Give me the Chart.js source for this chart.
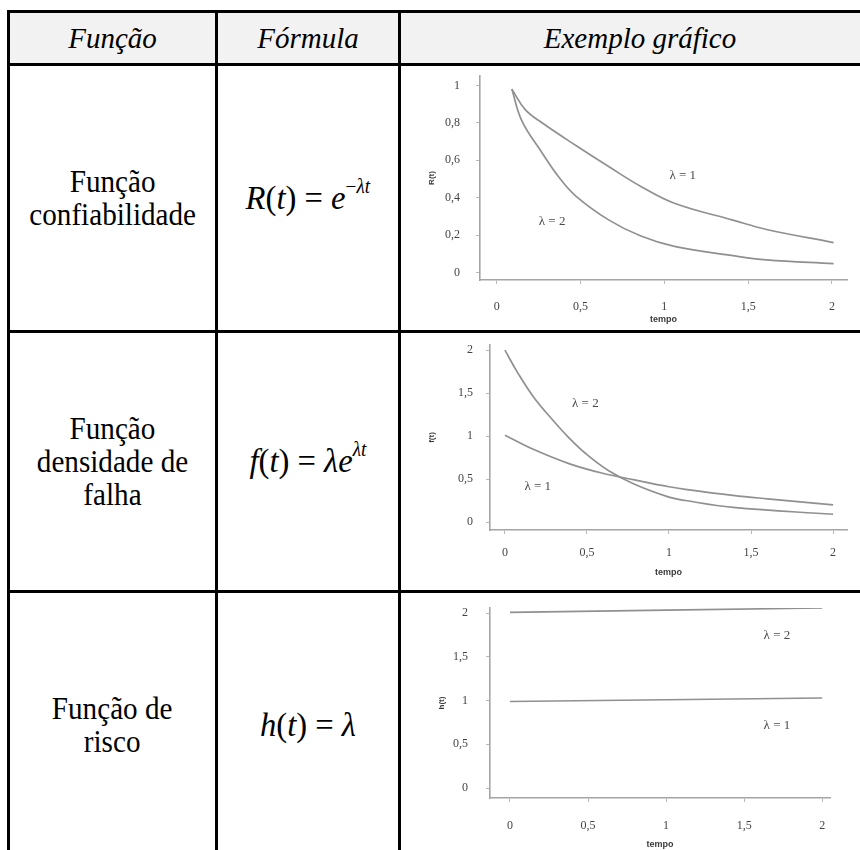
<!DOCTYPE html>
<html lang="pt">
<head>
<meta charset="utf-8">
<title>Funções de confiabilidade</title>
<script src="https://cdn.jsdelivr.net/npm/chart.js@4.4.0/dist/chart.umd.min.js"></script>
<style>
  body { margin: 0; width: 860px; height: 850px; overflow: hidden; position: relative; background: #fff;
         font-family: "Liberation Serif", "DejaVu Serif", serif; color: #000; }
  .hl { position: absolute; left: 7px; width: 900px; height: 3px; background: #000; }
  .vl { position: absolute; top: 10px; width: 3px; height: 860px; background: #000; }
  .cell { position: absolute; display: flex; align-items: center; justify-content: center; text-align: center; }
  .head { background: #f2f2f2; font-style: italic; font-size: 29px; }
  .name { font-size: 31px; line-height: 33px; }
  .name span { display: inline-block; transform: scaleX(0.94); }
  .formula { font-size: 34px; white-space: nowrap; }
  .formula span { display: inline-block; transform: scaleX(0.96); }
  .formula sup { font-size: 20px; position: relative; top: -4px; }
  canvas { position: absolute; filter: blur(0.3px); }
</style>
</head>
<body>
<div class="cell head" style="left:10px;top:13px;width:205px;height:50px;">Função</div>
<div class="cell head" style="left:218px;top:13px;width:180px;height:50px;">Fórmula</div>
<div class="cell head" style="left:401px;top:13px;width:478px;height:50px;">Exemplo gráfico</div>

<div class="cell name" style="left:10px;top:66px;width:205px;height:264px;"><span>Função<br>confiabilidade</span></div>
<div class="cell name" style="left:10px;top:333px;width:205px;height:257px;"><span>Função<br>densidade de<br>falha</span></div>
<div class="cell name" style="left:10px;top:593px;width:205px;height:264px;"><span>Função de<br>risco</span></div>

<div class="cell formula" style="left:218px;top:66px;width:180px;height:264px;"><span><i>R</i>(<i>t</i>) = <i>e</i><sup>−<i>λt</i></sup></span></div>
<div class="cell formula" style="left:218px;top:333px;width:180px;height:257px;"><span><i>f</i>(<i>t</i>) = <i>λe</i><sup><i>λt</i></sup></span></div>
<div class="cell formula" style="left:218px;top:593px;width:180px;height:264px;"><span><i>h</i>(<i>t</i>) = <i>λ</i></span></div>

<canvas id="conf" width="459" height="264" style="left:401px;top:66px;"></canvas>
<canvas id="dens" width="459" height="257" style="left:401px;top:333px;"></canvas>
<canvas id="risco" width="459" height="257" style="left:401px;top:593px;"></canvas>

<div class="hl" style="top:10px;"></div>
<div class="hl" style="top:63px;"></div>
<div class="hl" style="top:330px;"></div>
<div class="hl" style="top:590px;"></div>
<div class="vl" style="left:7px;"></div>
<div class="vl" style="left:215px;"></div>
<div class="vl" style="left:398px;"></div>

<script>
// eixos
const tempoTicks = [0, 0.5, 1, 1.5, 2];
const confTicks = [0, 0.2, 0.4, 0.6, 0.8, 1];
const densTicks = [0, 0.5, 1, 1.5, 2];
const riscoTicks = [0, 0.5, 1, 1.5, 2];

// R(t), lambda = 1 e lambda = 2
const confT1 = [0.09, 0.17, 0.27, 0.47, 0.67, 0.86, 1.06, 1.41, 1.61, 2.01];
const confL1 = [0.98, 0.87, 0.80, 0.68, 0.565, 0.46, 0.37, 0.28, 0.23, 0.16];
const confT2 = [0.09, 0.15, 0.27, 0.37, 0.47, 0.67, 0.86, 1.06, 1.41, 1.61, 2.01];
const confL2 = [0.98, 0.81, 0.64, 0.51, 0.41, 0.28, 0.195, 0.14, 0.09, 0.068, 0.048];

// f(t)
const densT1 = [0, 0.18, 0.39, 0.59, 0.79, 1.0, 1.1, 1.39, 1.6, 2.0];
const densL1 = [1.01, 0.84, 0.68, 0.57, 0.49, 0.41, 0.38, 0.31, 0.27, 0.2];
const densT2 = [0, 0.08, 0.18, 0.29, 0.39, 0.49, 0.63, 0.79, 1.0, 1.1, 1.39, 2.0];
const densL2 = [2.0, 1.73, 1.44, 1.19, 0.98, 0.80, 0.60, 0.44, 0.29, 0.25, 0.17, 0.09];

// h(t)
const riscoT = [0, 2];
const riscoL1 = [0.99, 1.03];
const riscoL2 = [2.01, 2.06];

const serif = '"Liberation Serif", "DejaVu Serif", serif';

function pts(ts, vs) {
    return ts.map((t, i) => ({ x: t, y: vs[i] }));
}

function fmt(v) {
    return String(v).replace('.', ',');
}

// escreve os rótulos "λ = n" dentro do gráfico
const lambdaLabels = {
    id: 'lambdaLabels',
    afterDatasetsDraw(chart, args, opts) {
        const { ctx, scales: { x, y } } = chart;
        ctx.save();
        ctx.font = '13px ' + serif;
        ctx.fillStyle = '#4a4a4a';
        ctx.textAlign = 'center';
        ctx.textBaseline = 'middle';
        opts.items.forEach(it => ctx.fillText(it.text, x.getPixelForValue(it.x), y.getPixelForValue(it.y)));
        ctx.restore();
    }
};

function makeChart(id, cfg) {
    const ctx = document.getElementById(id).getContext('2d');
    const tickFont = { family: serif, size: 12 };
    const titleFont = { family: '"Liberation Sans", Arial, sans-serif', size: 8, weight: 'bold' };
    return new Chart(ctx, {
        type: 'line',
        data: {
            datasets: cfg.series.map(s => ({
                data: s,
                borderColor: '#909090',
                borderWidth: 1.7,
                pointRadius: 0,
                fill: false,
                tension: 0.4
            }))
        },
        options: {
            responsive: false,
            animation: false,
            events: [],
            layout: { padding: cfg.padding },
            plugins: {
                legend: { display: false },
                tooltip: { enabled: false },
                lambdaLabels: { items: cfg.labels }
            },
            scales: {
                x: {
                    type: 'linear',
                    min: cfg.xMin,
                    max: cfg.xMax,
                    afterBuildTicks: a => { a.ticks = tempoTicks.map(v => ({ value: v })); },
                    afterFit: a => { a.height = cfg.xHeight; a.paddingLeft = 0; a.paddingRight = 0; },
                    grid: { drawOnChartArea: false, tickLength: 4, color: '#b8b8b8' },
                    border: { color: '#a4a4a4', width: 1.6 },
                    ticks: { padding: cfg.xPad, color: '#444', font: tickFont, callback: fmt, maxRotation: 0 },
                    title: { display: true, text: 'tempo', color: '#3a3a3a', font: { ...titleFont, size: 9 },
                             padding: { top: 0, bottom: cfg.xTitlePad } }
                },
                y: {
                    type: 'linear',
                    min: cfg.yMin,
                    max: cfg.yMax,
                    afterBuildTicks: a => { a.ticks = cfg.yTicks.map(v => ({ value: v })); },
                    afterFit: a => { a.width = cfg.yWidth; a.paddingTop = 0; a.paddingBottom = 0; },
                    grid: { drawOnChartArea: false, tickLength: 4, color: '#b8b8b8' },
                    border: { color: '#a4a4a4', width: 1.6 },
                    ticks: { padding: cfg.yPad, color: '#444', font: tickFont, callback: fmt },
                    title: { display: true, text: cfg.yTitle, color: '#3a3a3a', font: titleFont,
                             padding: { top: cfg.yTitlePad, bottom: 0 } }
                }
            }
        },
        plugins: [lambdaLabels]
    });
}

makeChart('conf', {
    series: [pts(confT1, confL1), pts(confT2, confL2)],
    yTicks: confTicks, yTitle: 'R(t)',
    xMin: -0.1, xMax: 2.09, yMin: -0.04, yMax: 1.05,
    padding: { left: 0, top: 10, right: 13, bottom: 0 },
    yWidth: 79, xHeight: 50,
    xPad: 16, yPad: 16, xTitlePad: 4.6, yTitlePad: 26.2,
    labels: [{ text: 'λ = 1', x: 1.11, y: 0.52 }, { text: 'λ = 2', x: 0.33, y: 0.27 }]
});

makeChart('dens', {
    series: [pts(densT1, densL1), pts(densT2, densL2)],
    yTicks: densTicks, yTitle: 'f(t)',
    xMin: -0.091, xMax: 2.085, yMin: -0.093, yMax: 2.06,
    padding: { left: 0, top: 12, right: 13, bottom: 0 },
    yWidth: 89, xHeight: 60,
    xPad: 11.5, yPad: 13, xTitlePad: 11.6, yTitlePad: 26.2,
    labels: [{ text: 'λ = 2', x: 0.49, y: 1.38 }, { text: 'λ = 1', x: 0.2, y: 0.41 }]
});

makeChart('risco', {
    series: [pts(riscoT, riscoL2), pts(riscoT, riscoL1)],
    yTicks: riscoTicks, yTitle: 'h(t)',
    xMin: -0.128, xMax: 2.05, yMin: -0.114, yMax: 2.06,
    padding: { left: 0, top: 15, right: 30, bottom: 0 },
    yWidth: 89, xHeight: 52,
    xPad: 16.5, yPad: 18, xTitlePad: 0, yTitlePad: 36.2,
    labels: [{ text: 'λ = 2', x: 1.71, y: 1.75 }, { text: 'λ = 1', x: 1.71, y: 0.72 }]
});
</script>
</body>
</html>
